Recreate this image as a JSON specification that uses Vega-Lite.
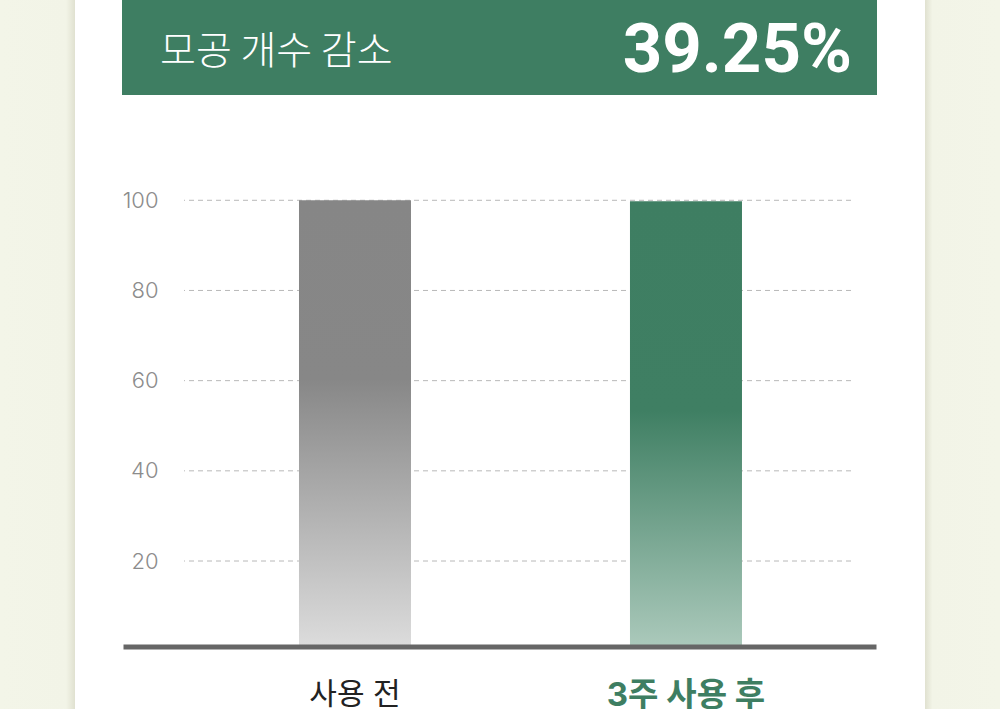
{
  "$schema": "https://vega.github.io/schema/vega-lite/v6.json",
  "background": "white",
  "padding": 0,
  "columns": 7,
  "spacing": 0,
  "bounds": "flush",
  "concat": [
    {
      "width": 75, "height": 95,
      "view": {"stroke": null, "fill": {"gradient": "linear", "x1": 0, "y1": 0, "x2": 1, "y2": 0, "stops": [{"offset": 0, "color": "#f3f5e8"}, {"offset": 0.88, "color": "#f2f4e7"}, {"offset": 1, "color": "#e0e1d0"}]}},
      "data": {"values": [{}]},
      "mark": {"type": "text", "text": ""}
    },
    {
      "width": 47, "height": 95,
      "data": {"values": [{}]},
      "mark": {"type": "text", "text": ""}
    },
    {
      "width": 62, "height": 95,
      "view": {"stroke": null, "fill": "#3e7e62"},
      "data": {"values": [{}]},
      "mark": {"type": "text", "text": ""}
    },
    {
      "width": 667, "height": 95,
      "view": {"stroke": null, "fill": "#3e7e62"},
      "data": {"values": [
        {"side": "left", "label": "모공 개수 감소"},
        {"side": "right", "label": "39.25%"}
      ]},
      "encoding": {
        "x": {"field": "side", "type": "nominal", "axis": null,
              "scale": {"type": "point", "domain": ["left", "right"], "padding": 0}},
        "text": {"field": "label"}
      },
      "layer": [
        {
          "transform": [{"filter": "datum.side == 'left'"}],
          "mark": {"type": "text", "align": "left", "baseline": "alphabetic", "dx": -24, "dy": 16,
                   "font": "Noto Sans CJK KR", "fontSize": 39, "fontWeight": 300, "color": "white"}
        },
        {
          "transform": [{"filter": "datum.side == 'right'"}],
          "mark": {"type": "text", "align": "right", "baseline": "alphabetic", "dx": 1, "dy": 24.5,
                   "font": "Roboto", "fontSize": 69, "fontWeight": 700, "color": "white"}
        }
      ]
    },
    {
      "width": 26, "height": 95,
      "view": {"stroke": null, "fill": "#3e7e62"},
      "data": {"values": [{}]},
      "mark": {"type": "text", "text": ""}
    },
    {
      "width": 48, "height": 95,
      "data": {"values": [{}]},
      "mark": {"type": "text", "text": ""}
    },
    {
      "width": 75, "height": 95,
      "view": {"stroke": null, "fill": {"gradient": "linear", "x1": 0, "y1": 0, "x2": 1, "y2": 0, "stops": [{"offset": 0, "color": "#e0e1d0"}, {"offset": 0.1, "color": "#f2f4e7"}, {"offset": 1, "color": "#f3f5e8"}]}},
      "data": {"values": [{}]},
      "mark": {"type": "text", "text": ""}
    },
    {
      "width": 75, "height": 614,
      "view": {"stroke": null, "fill": {"gradient": "linear", "x1": 0, "y1": 0, "x2": 1, "y2": 0, "stops": [{"offset": 0, "color": "#f3f5e8"}, {"offset": 0.88, "color": "#f2f4e7"}, {"offset": 1, "color": "#e0e1d0"}]}},
      "data": {"values": [{}]},
      "mark": {"type": "text", "text": ""}
    },
    {
      "width": 47, "height": 614,
      "data": {"values": [{}]},
      "mark": {"type": "text", "text": ""}
    },
    {
      "width": 62, "height": 614,
      "data": {"values": [{}]},
      "mark": {"type": "text", "text": ""}
    },
    {
      "width": 667, "height": 614,
      "data": {"values": [
        {"stage": "사용 전", "value": 100},
        {"stage": "3주 사용 후", "value": 99.8}
      ]},
      "encoding": {
        "y": {
          "field": "value", "type": "quantitative",
          "scale": {"domain": [-12.82, 123.35], "nice": false, "zero": false},
          "axis": {
            "title": null, "values": [20, 40, 60, 80, 100],
            "domain": false, "ticks": false, "tickSize": 0, "grid": false,
            "labelFont": "Inter", "labelFontSize": 22, "labelFontWeight": 300,
            "labelColor": "#8c8c8c", "labelPadding": 26
          }
        }
      },
      "layer": [
        {
          "data": {"values": [{"value": 20}, {"value": 40}, {"value": 60}, {"value": 80}, {"value": 100}]},
          "mark": {"type": "rule", "color": "#b8b8b8", "strokeWidth": 1, "strokeDash": [5, 4]}
        },
        {
          "mark": {"type": "bar"},
          "encoding": {
            "x": {
              "field": "stage", "type": "nominal", "sort": null,
              "scale": {"type": "band", "range": [-61, 692], "paddingInner": 0.6616, "paddingOuter": 0.4683, "align": 0.5677},
              "axis": {
                "title": null, "orient": "bottom", "offset": -62.5, "zindex": 1,
                "domain": true, "domainColor": "#666666", "domainWidth": 5,
                "ticks": false, "tickSize": 0, "labelAngle": 0, "labelPadding": 33,
                "labelFont": "Inter, 'Noto Sans CJK KR'",
                "labelFontSize": {"condition": {"test": "datum.value === '3주 사용 후'", "value": 33}, "value": 30},
                "labelFontWeight": {"condition": {"test": "datum.value === '3주 사용 후'", "value": "bold"}, "value": "normal"},
                "labelColor": {"condition": {"test": "datum.value === '3주 사용 후'", "value": "#3e7e62"}, "value": "#222222"}
              }
            },
            "y2": {"datum": 1},
            "fill": {
              "condition": {
                "test": "datum.stage === '사용 전'",
                "value": {"gradient": "linear", "x1": 0, "y1": 0, "x2": 0, "y2": 1,
                          "stops": [{"offset": 0, "color": "#868686"}, {"offset": 0.4, "color": "#878787"}, {"offset": 1, "color": "#dcdcdc"}]}
              },
              "value": {"gradient": "linear", "x1": 0, "y1": 0, "x2": 0, "y2": 1,
                        "stops": [{"offset": 0, "color": "#3e7e62"}, {"offset": 0.47, "color": "#3f7f63"}, {"offset": 1, "color": "#abc9bb"}]}
            }
          }
        }
      ]
    },
    {
      "width": 26, "height": 614,
      "data": {"values": [{}]},
      "mark": {"type": "text", "text": ""}
    },
    {
      "width": 48, "height": 614,
      "data": {"values": [{}]},
      "mark": {"type": "text", "text": ""}
    },
    {
      "width": 75, "height": 614,
      "view": {"stroke": null, "fill": {"gradient": "linear", "x1": 0, "y1": 0, "x2": 1, "y2": 0, "stops": [{"offset": 0, "color": "#e0e1d0"}, {"offset": 0.1, "color": "#f2f4e7"}, {"offset": 1, "color": "#f3f5e8"}]}},
      "data": {"values": [{}]},
      "mark": {"type": "text", "text": ""}
    }
  ],
  "config": {
    "view": {"stroke": null}
  }
}
